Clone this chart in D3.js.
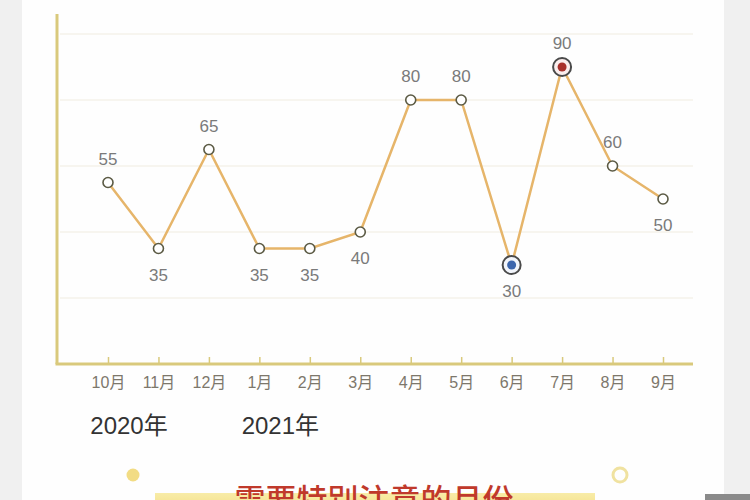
<!DOCTYPE html>
<html><head><meta charset="utf-8">
<script src="https://cdn.jsdelivr.net/npm/d3@7/dist/d3.min.js"></script>
<style>html,body{margin:0;padding:0;background:#f1f1f1;}svg{display:block;}</style>
</head><body><svg id="c" width="750" height="500"></svg>
<script>
const months = ["10月","11月","12月","1月","2月","3月","4月","5月","6月","7月","8月","9月"];
const values = [55,35,65,35,35,40,80,80,30,90,60,50];
const labelBelow = [false,true,false,true,true,true,false,false,true,false,false,true];
const gridValues = [20,40,60,80,100];
const yearLabels = [{text:"2020年", at:"10月"},{text:"2021年", at:"1月"}];
const lowMonth = "6月", highMonth = "7月";
const bottomTitle = "需要特别注意的月份";

const svg = d3.select("#c");
const font = "'Liberation Sans','Noto Sans CJK SC',sans-serif";
const cjk = "'Noto Sans CJK SC','Noto Sans',sans-serif";
// panel
svg.append("rect").attr("x",0).attr("y",0).attr("width",750).attr("height",500).attr("fill","#f0f0f0");
svg.append("rect").attr("x",22).attr("y",0).attr("width",702).attr("height",500).attr("fill","#fefefe");

const x = d3.scalePoint().domain(months).range([108,663]);
const y = d3.scaleLinear().domain([0,100]).range([364,34]);

// grid
svg.append("g").selectAll("line").data(gridValues).join("line")
  .attr("x1",60).attr("x2",693).attr("y1",d=>y(d)).attr("y2",d=>y(d))
  .attr("stroke","#f5f2ea").attr("stroke-width",1.5);

const axisColor = "#d9c97c";
// y axis
svg.append("line").attr("x1",57).attr("x2",57).attr("y1",14).attr("y2",y(0))
  .attr("stroke",axisColor).attr("stroke-width",3);
// x axis
const xAxis = svg.append("g").attr("transform",`translate(0,${y(0)})`)
  .call(d3.axisBottom(x).tickSize(-7).tickPadding(13).tickSizeOuter(0));
xAxis.select(".domain").attr("d",`M55.5,0H693`).attr("stroke",axisColor).attr("stroke-width",3);
xAxis.selectAll(".tick line").attr("stroke",axisColor).attr("stroke-width",1.5);
xAxis.selectAll(".tick text").attr("fill","#7d776b").attr("font-size",16).attr("font-family",font);

// years
svg.append("g").selectAll("text").data(yearLabels).join("text")
  .attr("x",d=>x(d.at)+21).attr("y",434).attr("text-anchor","middle")
  .attr("font-size",24).attr("font-family",font).attr("fill","#333")
  .text(d=>d.text);

// line
const data = months.map((m,i)=>({m, v:values[i], below:labelBelow[i]}));
svg.append("path").datum(data)
  .attr("d", d3.line().x(d=>x(d.m)).y(d=>y(d.v)))
  .attr("fill","none").attr("stroke","#e6b56a").attr("stroke-width",2.5);

// points
const normal = data.filter(d=>d.m!==lowMonth && d.m!==highMonth);
svg.append("g").selectAll("circle").data(normal).join("circle")
  .attr("cx",d=>x(d.m)).attr("cy",d=>y(d.v)).attr("r",5)
  .attr("fill","#fff").attr("stroke","#5b5a44").attr("stroke-width",1.6);

const special = [
  {d:data.find(d=>d.m===lowMonth), fill:"#f2f5fb", dot:"#3c66ad"},
  {d:data.find(d=>d.m===highMonth), fill:"#fbeeee", dot:"#a8302b"}
];
special.forEach(s=>{
  svg.append("circle").attr("cx",x(s.d.m)).attr("cy",y(s.d.v)).attr("r",9)
    .attr("fill",s.fill).attr("stroke","#4a4a4a").attr("stroke-width",2);
  svg.append("circle").attr("cx",x(s.d.m)).attr("cy",y(s.d.v)).attr("r",4.5)
    .attr("fill",s.dot);
});

// value labels
svg.append("g").selectAll("text").data(data).join("text")
  .attr("x",d=>x(d.m)).attr("y",d=> d.below ? y(d.v)+32 : y(d.v)-18)
  .attr("text-anchor","middle").attr("font-size",17).attr("font-family",font)
  .attr("fill","#7a7a7a").text(d=>d.v);

// bottom decorations
svg.append("circle").attr("cx",133).attr("cy",475).attr("r",6.5).attr("fill","#f2dc84");
svg.append("circle").attr("cx",620).attr("cy",475).attr("r",7).attr("fill","none")
  .attr("stroke","#f0e2a0").attr("stroke-width",3);
const grad = svg.append("defs").append("linearGradient").attr("id","bg").attr("x1",0).attr("x2",0).attr("y1",0).attr("y2",1);
grad.append("stop").attr("offset","0%").attr("stop-color","#f8eca8");
grad.append("stop").attr("offset","100%").attr("stop-color","#f4dd80");
svg.append("rect").attr("x",155).attr("y",493).attr("width",440).attr("height",20).attr("fill","url(#bg)");
svg.append("text").attr("x",374).attr("y",511).attr("text-anchor","middle")
  .attr("font-size",31).attr("font-weight",500).attr("font-family",cjk).attr("fill","#c0392b").text(bottomTitle);
svg.append("rect").attr("x",705).attr("y",494).attr("width",45).attr("height",6).attr("fill","#8a8a8a");
</script></body></html>
